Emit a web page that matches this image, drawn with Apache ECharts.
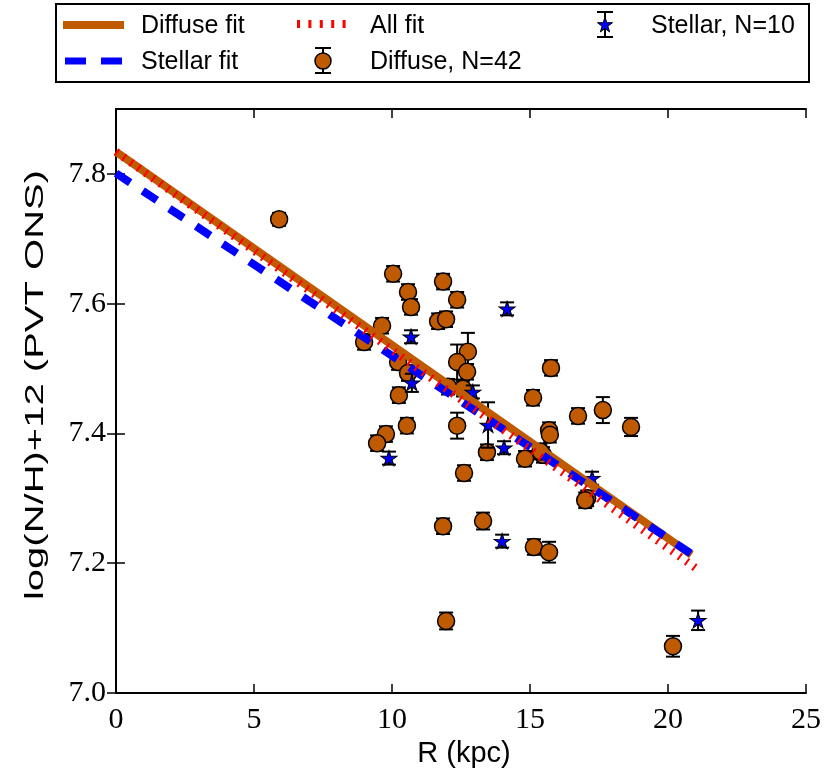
<!DOCTYPE html>
<html>
<head>
<meta charset="utf-8">
<script src="https://cdn.jsdelivr.net/npm/echarts@6/dist/echarts.min.js"></script>
<style>
html,body{margin:0;padding:0;background:#fff;}
#chart{width:827px;height:778px;}
</style>
</head>
<body>
<div id="chart"></div>
<script>
// ---------------- data ----------------
const diffuseR  = [5.91, 10.04, 10.58, 10.69, 11.85, 12.36, 11.67, 11.96, 9.64, 8.99,
                   10.22, 10.58, 10.25, 12.75, 12.36, 12.72, 12.03, 12.57, 15.11, 15.76,
                   16.74, 15.69, 15.72, 17.64, 18.66, 14.82, 15.47, 15.38, 17.07, 17.00,
                   12.36, 9.78, 9.46, 10.54, 13.44, 12.61, 11.85, 13.30, 15.14, 15.69,
                   11.96, 20.18];
const diffuseNH = [7.730, 7.646, 7.618, 7.595, 7.634, 7.606, 7.573, 7.576, 7.566, 7.541,
                   7.510, 7.493, 7.459, 7.526, 7.510, 7.495, 7.472, 7.469, 7.455, 7.501,
                   7.427, 7.405, 7.398, 7.436, 7.410, 7.361, 7.367, 7.372, 7.300, 7.297,
                   7.412, 7.399, 7.385, 7.412, 7.371, 7.339, 7.257, 7.265, 7.225, 7.217,
                   7.111, 7.072];
const diffuseErr = [0.010, 0.012, 0.012, 0.012, 0.012, 0.012, 0.012, 0.012, 0.012, 0.012,
                    0.012, 0.012, 0.012, 0.029, 0.027, 0.012, 0.012, 0.012, 0.012, 0.012,
                    0.012, 0.012, 0.012, 0.020, 0.014, 0.012, 0.012, 0.012, 0.012, 0.012,
                    0.020, 0.012, 0.012, 0.012, 0.012, 0.012, 0.012, 0.013, 0.012, 0.016,
                    0.013, 0.016];

const stellarR   = [9.89, 10.69, 10.72, 12.93, 13.48, 14.06, 14.17, 13.99, 17.25, 21.09];
const stellarNH  = [7.362, 7.549, 7.478, 7.464, 7.413, 7.378, 7.592, 7.234, 7.331, 7.112];
const stellarErr = [0.010, 0.010, 0.014, 0.010, 0.035, 0.010, 0.010, 0.010, 0.010, 0.015];

const diffuseFitR = [0, 20.85], diffuseFitY = [7.834, 7.213];
const stellarFitR = [0, 20.90], stellarFitY = [7.801, 7.213];
const allFitR     = [0, 21.09], allFitY     = [7.834, 7.190];

const xTicks = [0, 5, 10, 15, 20, 25];
const yTicks = [7.0, 7.2, 7.4, 7.6, 7.8];

const legendLabels = ['Diffuse fit', 'Stellar fit', 'All fit', 'Diffuse, N=42', 'Stellar, N=10'];
const xTitle = 'R (kpc)';
const yTitle = 'log(N/H)+12 (PVT ONS)';

// ---------------- style ----------------
const BROWN = '#bf5a00';
const BLUE = '#0000ff';
const RED = '#ff0000';
const STAR = 'path://M50 0 L61.23 34.55 L97.55 34.55 L68.16 55.9 L79.39 90.45 L50 69.1 L20.61 90.45 L31.84 55.9 L2.45 34.55 L38.77 34.55 Z';
const SANS = '"Liberation Sans", Arial, sans-serif';
const SERIF = '"Liberation Serif", "DejaVu Serif", serif';

const zip = (a, b) => a.map((v, i) => [v, b[i]]);
const zip3 = (a, b, c) => a.map((v, i) => [v, b[i], c[i]]);

function starPoints(cx, cy, w, h) {
  const pts = [];
  for (let k = 0; k < 10; k++) {
    const ang = -Math.PI / 2 + k * Math.PI / 5;
    const r = (k % 2 === 0) ? 1 : 0.382;
    pts.push([cx + r * Math.cos(ang) * w / 2 / 0.951, cy + r * Math.sin(ang) * h / 2 / 0.905 + h * 0.05]);
  }
  return pts;
}

function errRender(params, api) {
  const x = api.value(0), y = api.value(1), e = api.value(2);
  const p1 = api.coord([x, y + e]), p2 = api.coord([x, y - e]);
  const w = 7;
  const st = {stroke: '#000', lineWidth: 2};
  return {type: 'group', children: [
    {type: 'line', shape: {x1: p1[0], y1: p1[1], x2: p2[0], y2: p2[1]}, style: st},
    {type: 'line', shape: {x1: p1[0] - w, y1: p1[1], x2: p1[0] + w, y2: p1[1]}, style: st},
    {type: 'line', shape: {x1: p2[0] - w, y1: p2[1], x2: p2[0] + w, y2: p2[1]}, style: st}
  ]};
}

const axisLineStyle = {show: true, lineStyle: {color: '#000', width: 2}};
const tickStyle = {show: true, inside: true, length: 9, lineStyle: {color: '#000', width: 1.5}};

const chart = echarts.init(document.getElementById('chart'), null, {renderer: 'canvas'});

// legend graphics
const legendText = (txt, x, y) => ({
  type: 'text', x: x, y: y, z: 100,
  style: {text: txt, fontSize: 25, fontFamily: SANS, fill: '#000', align: 'left', verticalAlign: 'middle'}
});
const blk = {stroke: '#000', lineWidth: 2};
const graphic = [
  {type: 'rect', shape: {x: 56, y: 4, width: 753, height: 78}, style: {fill: '#fff', stroke: '#000', lineWidth: 2}, z: 99},
  // Diffuse fit
  {type: 'line', shape: {x1: 63, y1: 25, x2: 124, y2: 25}, style: {stroke: BROWN, lineWidth: 8}, z: 100},
  legendText(legendLabels[0], 141, 26),
  // Stellar fit
  {type: 'line', shape: {x1: 65, y1: 61, x2: 124, y2: 61}, style: {stroke: BLUE, lineWidth: 7, lineDash: [21, 15]}, z: 100},
  legendText(legendLabels[1], 141, 62),
  // All fit
  {type: 'line', shape: {x1: 297, y1: 24, x2: 346, y2: 24}, style: {stroke: RED, lineWidth: 8, lineDash: [3, 8.4]}, z: 100},
  legendText(legendLabels[2], 370, 26),
  // Diffuse points
  {type: 'line', shape: {x1: 323, y1: 48, x2: 323, y2: 73}, style: blk, z: 100},
  {type: 'line', shape: {x1: 315, y1: 48, x2: 331, y2: 48}, style: blk, z: 100},
  {type: 'line', shape: {x1: 315, y1: 73, x2: 331, y2: 73}, style: blk, z: 100},
  {type: 'circle', shape: {cx: 323, cy: 61, r: 8}, style: {fill: BROWN, stroke: '#000', lineWidth: 1.5}, z: 101},
  legendText(legendLabels[3], 370, 62),
  // Stellar points
  {type: 'line', shape: {x1: 605, y1: 12, x2: 605, y2: 37}, style: blk, z: 100},
  {type: 'line', shape: {x1: 597, y1: 12, x2: 613, y2: 12}, style: blk, z: 100},
  {type: 'line', shape: {x1: 597, y1: 37, x2: 613, y2: 37}, style: blk, z: 100},
  {type: 'polygon', shape: {points: starPoints(605, 24.5, 15, 15)}, style: {fill: BLUE, stroke: '#000', lineWidth: 1}, z: 101},
  legendText(legendLabels[4], 651, 26),
  // axis titles
  {type: 'text', x: 464, y: 754, z: 100,
   style: {text: xTitle, fontSize: 29, fontFamily: SANS, fill: '#000', align: 'center', verticalAlign: 'middle'}},
  {type: 'text', x: 36, y: 385, rotation: Math.PI / 2, scaleX: 1.6, z: 100,
   style: {text: yTitle, fontSize: 25, fontFamily: SANS, fill: '#000', align: 'center', verticalAlign: 'middle'}}
];

const option = {
  animation: false,
  backgroundColor: '#fff',
  grid: {left: 116, right: 21, top: 109, bottom: 85, containLabel: false},
  xAxis: [
    {type: 'value', min: 0, max: 25, interval: 5, position: 'bottom',
     axisLine: axisLineStyle, axisTick: Object.assign({customValues: xTicks}, tickStyle), splitLine: {show: false},
     axisLabel: {color: '#000', fontSize: 30, fontFamily: SERIF, margin: 12,
                 customValues: xTicks, formatter: v => String(v)}},
    {type: 'value', min: 0, max: 25, interval: 5, position: 'top',
     axisLine: axisLineStyle, axisTick: Object.assign({customValues: xTicks}, tickStyle),
     axisLabel: {show: false}, splitLine: {show: false}}
  ],
  yAxis: [
    {type: 'value', min: 7.0, max: 7.9, interval: 0.1, position: 'left',
     axisLine: axisLineStyle, axisTick: Object.assign({customValues: yTicks}, tickStyle),
     splitLine: {show: false},
     axisLabel: {color: '#000', fontSize: 30, fontFamily: SERIF, margin: 10,
                 customValues: yTicks, formatter: v => v.toFixed(1)}},
    {type: 'value', min: 7.0, max: 7.9, interval: 0.1, position: 'right',
     axisLine: axisLineStyle, axisTick: Object.assign({customValues: yTicks}, tickStyle),
     axisLabel: {show: false}, splitLine: {show: false}}
  ],
  graphic: graphic,
  series: [
    {type: 'custom', name: 'Diffuse err', renderItem: errRender, data: zip3(diffuseR, diffuseNH, diffuseErr),
     encode: {x: 0, y: 1}, z: 2, silent: true, clip: false},
    {type: 'scatter', name: legendLabels[3], data: zip(diffuseR, diffuseNH), symbol: 'circle', symbolSize: 17,
     itemStyle: {color: BROWN, borderColor: '#000', borderWidth: 1.5, opacity: 1}, z: 3},
    {type: 'custom', name: 'Stellar err', renderItem: errRender, data: zip3(stellarR, stellarNH, stellarErr),
     encode: {x: 0, y: 1}, z: 4, silent: true, clip: false},
    {type: 'scatter', name: legendLabels[4], data: zip(stellarR, stellarNH), symbol: STAR, symbolSize: [16, 15],
     itemStyle: {color: BLUE, borderColor: '#000', borderWidth: 1, opacity: 1}, z: 5},
    {type: 'line', name: legendLabels[0], data: zip(diffuseFitR, diffuseFitY), showSymbol: false, symbol: 'none',
     lineStyle: {color: BROWN, width: 8, cap: 'butt'}, z: 6},
    {type: 'line', name: legendLabels[1], data: zip(stellarFitR, stellarFitY), showSymbol: false, symbol: 'none',
     lineStyle: {color: BLUE, width: 8, type: [17, 15], cap: 'butt'}, z: 7},
    {type: 'line', name: legendLabels[2], data: zip(allFitR, allFitY), showSymbol: false, symbol: 'none',
     lineStyle: {color: RED, width: 8, type: [2, 7], cap: 'butt'}, z: 8}
  ]
};
chart.setOption(option);
</script>
</body>
</html>
